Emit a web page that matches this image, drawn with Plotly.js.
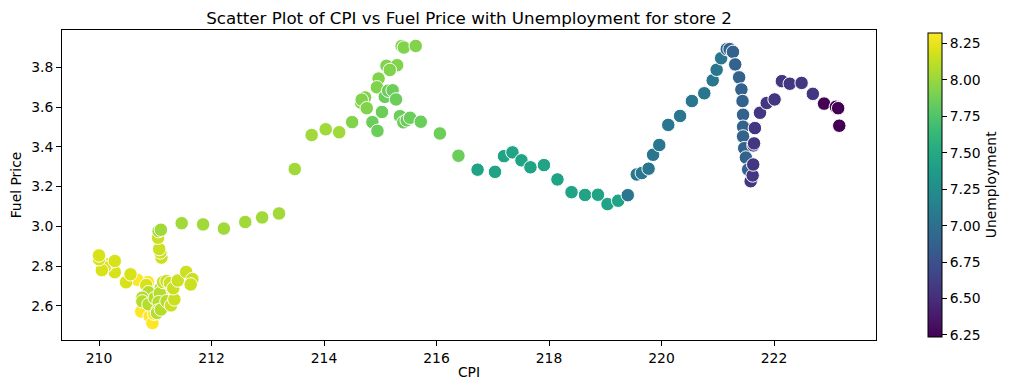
<!DOCTYPE html>
<html>
<head>
<meta charset="utf-8">
<script src="https://cdn.plot.ly/plotly-3.0.1.min.js"></script>
<style>html,body{margin:0;padding:0;background:#fff;}#chart{width:1012px;height:390px;}</style>
</head>
<body>
<div id="chart"></div>
<script>
// CPI (x) per week, store 2, Feb 2010 - Oct 2012
var cpi = [
  210.75, 210.90, 210.95, 210.98, 211.01, 211.04, 210.87, 210.68,
  210.48, 210.28, 210.15, 210.10, 210.05, 210.00, 210.00, 210.28, 210.56, 210.84, 211.11, 211.11, 211.00,
  210.88, 210.77, 210.77, 210.88, 210.99, 211.10, 211.10, 211.08, 211.06, 211.04, 211.03, 211.10, 211.20,
  211.28, 211.34, 211.14, 211.20, 211.26, 211.32, 211.40, 211.55, 211.66, 211.63, 211.11, 211.09, 211.07, 211.05,
  211.06, 211.10, 211.47, 211.85, 212.22, 212.60, 212.90, 213.20, 213.48, 213.78, 214.03, 214.27,
  214.50, 214.66, 214.97, 215.11, 215.30, 215.38, 215.42, 215.63, 215.17, 214.94, 214.73, 214.67, 214.76,
  214.86, 214.95, 215.03, 215.08, 215.14, 215.22, 215.28, 215.35, 215.41, 215.47, 215.53, 215.72, 216.06, 216.39,
  216.73, 217.04, 217.20, 217.35, 217.51, 217.67, 217.91, 218.15, 218.40, 218.64, 218.87, 219.04, 219.23,
  219.40, 219.56, 219.65, 219.77, 219.85, 219.96, 220.12, 220.33, 220.54, 220.76, 220.91, 220.98, 221.06,
  221.16, 221.21, 221.27, 221.31, 221.38, 221.42, 221.44, 221.45, 221.45, 221.45, 221.47, 221.50, 221.54,
  221.585, 221.62, 221.63, 221.635, 221.645, 221.66, 221.75, 221.87, 222.01, 222.14, 222.28, 222.49, 222.69,
  222.89, 223.10, 223.14, 223.16
];
// Fuel price (y)
var fuelPrice = [
  2.572, 2.548, 2.514, 2.561, 2.625, 2.667, 2.720, 2.732,
  2.719, 2.770, 2.808, 2.795, 2.780, 2.835, 2.854, 2.826, 2.759, 2.705, 2.668, 2.637, 2.653,
  2.669, 2.642, 2.623, 2.608, 2.640, 2.627, 2.692, 2.664, 2.619, 2.577, 2.565, 2.582, 2.624,
  2.603, 2.633, 2.720, 2.725, 2.716, 2.689, 2.728, 2.771, 2.735, 2.708, 2.843, 2.869, 2.886, 2.943,
  2.976, 2.983, 3.016, 3.010, 2.989, 3.022, 3.045, 3.065, 3.288, 3.459, 3.488, 3.473,
  3.524, 3.622, 3.743, 3.807, 3.810, 3.906, 3.899, 3.907, 3.786, 3.699, 3.648, 3.637, 3.594,
  3.524, 3.480, 3.575, 3.651, 3.682, 3.684, 3.638, 3.554, 3.523, 3.533, 3.546, 3.526, 3.467, 3.355,
  3.285, 3.274, 3.353, 3.372, 3.332, 3.297, 3.308, 3.236, 3.172, 3.158, 3.159, 3.112, 3.129,
  3.157, 3.261, 3.268, 3.290, 3.360, 3.409, 3.510, 3.555, 3.630, 3.669, 3.734, 3.787, 3.845,
  3.891, 3.891, 3.877, 3.814, 3.749, 3.688, 3.630, 3.561, 3.501, 3.452, 3.393, 3.346, 3.286,
  3.227, 3.256, 3.311, 3.407, 3.417, 3.494, 3.571, 3.620, 3.638, 3.730, 3.717, 3.721, 3.666,
  3.617, 3.601, 3.594, 3.506
];
// Unemployment rate per quarter and number of weeks in each quarter
var unemploymentLevels = [8.324, 8.200, 8.099, 8.163, 8.028, 7.931, 7.852, 7.441, 7.057, 6.891, 6.565, 6.237];
var weeksPerLevel      = [8, 13, 13, 14, 12, 13, 14, 13, 13, 13, 13, 4];

var unemployment = [];
for (var i = 0; i < unemploymentLevels.length; i++) {
  for (var k = 0; k < weeksPerLevel[i]; k++) unemployment.push(unemploymentLevels[i]);
}

var viridis = [[0,'#440154'],[0.0627,'#48186a'],[0.1255,'#472d7b'],[0.1882,'#424086'],[0.2510,'#3b528b'],
  [0.3137,'#33638d'],[0.3765,'#2c728e'],[0.4392,'#26828e'],[0.5020,'#21918c'],[0.5647,'#1fa088'],
  [0.6275,'#28ae80'],[0.6902,'#3fbc73'],[0.7529,'#5ec962'],[0.8157,'#84d44b'],[0.8784,'#addc30'],
  [0.9412,'#d8e219'],[1,'#fde725']];

var font = 'DejaVu Sans, sans-serif';
var cmin = Math.min.apply(null, unemployment);
var cmax = Math.max.apply(null, unemployment);

var trace = {
  type: 'scatter', mode: 'markers',
  x: cpi, y: fuelPrice,
  hoverinfo: 'skip',
  marker: {
    size: 13.5,
    color: unemployment,
    colorscale: viridis,
    cmin: cmin, cmax: cmax,
    line: {color: '#ffffff', width: 1},
    colorbar: {
      title: {text: 'Unemployment', side: 'right', font: {family: font, size: 13.9, color: '#000'}},
      thickness: 14, thicknessmode: 'pixels',
      len: 304, lenmode: 'pixels',
      x: 1.0639, xanchor: 'left', xpad: 0,
      y: 0.991, yanchor: 'top', ypad: 0,
      outlinecolor: '#000', outlinewidth: 1,
      ticks: 'outside', ticklen: 5, tickwidth: 1, tickcolor: '#000',
      tick0: 6.25, dtick: 0.25, tickformat: '.2f',
      tickfont: {family: font, size: 13.9, color: '#000'}
    }
  }
};

var layout = {
  width: 1012, height: 390,
  margin: {l: 62, r: 136, t: 30, b: 50},
  paper_bgcolor: '#fff', plot_bgcolor: '#fff',
  showlegend: false,
  font: {family: font, color: '#000'},
  title: {text: 'Scatter Plot of CPI vs Fuel Price with Unemployment for store 2',
          font: {family: font, size: 16.7, color: '#000'},
          x: 0.5, xref: 'paper', xanchor: 'center', y: 0.954, yref: 'container', yanchor: 'middle'},
  xaxis: {
    range: [209.342, 223.813], showgrid: false, zeroline: false,
    showline: true, linecolor: '#000', linewidth: 1, mirror: true,
    ticks: 'outside', ticklen: 5, tickwidth: 1, tickcolor: '#000',
    tick0: 210, dtick: 2,
    tickfont: {family: font, size: 13.9, color: '#000'},
    title: {text: 'CPI', font: {family: font, size: 13.9, color: '#000'}, standoff: 2}
  },
  yaxis: {
    range: [2.429, 3.987], showgrid: false, zeroline: false,
    showline: true, linecolor: '#000', linewidth: 1, mirror: true,
    ticks: 'outside', ticklen: 5, tickwidth: 1, tickcolor: '#000',
    tick0: 2.6, dtick: 0.2, tickformat: '.1f',
    tickfont: {family: font, size: 13.9, color: '#000'},
    title: {text: 'Fuel Price', font: {family: font, size: 13.9, color: '#000'}, standoff: 6}
  }
};

Plotly.newPlot('chart', [trace], layout, {staticPlot: true, displayModeBar: false});
</script>
</body>
</html>
